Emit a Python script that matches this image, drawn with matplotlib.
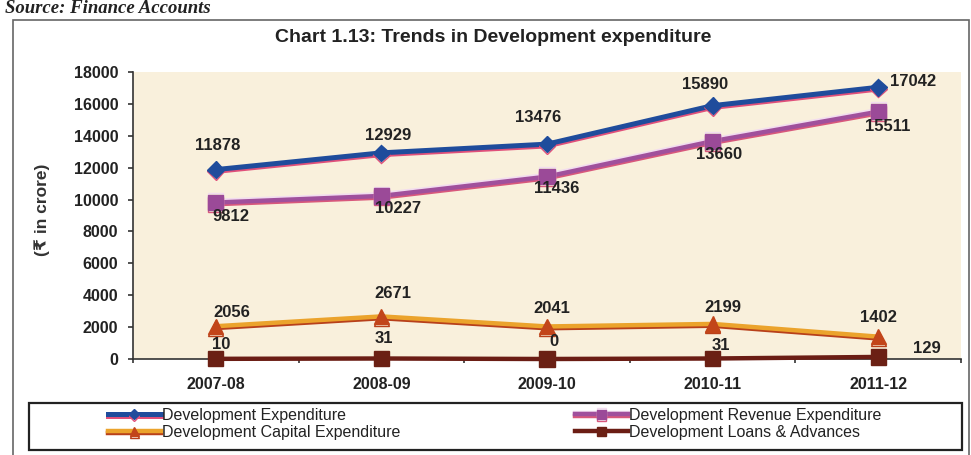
import numpy as np
import matplotlib
matplotlib.use("Agg")
import matplotlib.pyplot as plt
import matplotlib.patheffects as pe
from matplotlib.patches import Rectangle

years = ['2007-08', '2008-09', '2009-10', '2010-11', '2011-12']
dev_exp = [11878, 12929, 13476, 15890, 17042]
dev_rev = [9812, 10227, 11436, 13660, 15511]
dev_cap = [2056, 2671, 2041, 2199, 1402]
dev_loans = [10, 31, 0, 31, 129]

names = ['Development Expenditure', 'Development Revenue Expenditure',
         'Development Capital Expenditure', 'Development Loans & Advances']

W, H = 971, 455
FONT = ['Liberation Sans', 'DejaVu Sans']
plt.rcParams['font.family'] = FONT
TXT = '#222222'

# label offsets in pixels (dx, dy) from each marker
off_exp = [(2, 24), (7, 17), (-9, 27), (-8, 21), (35, 6)]
off_rev = [(15, -14), (17, -13), (10, -12), (6, -13), (9, -15)]
off_cap = [(16, 14), (11, 23), (5, 18), (10, 16), (0, 19)]
off_loans = [(5, 14), (2, 20), (7, 18), (8, 13), (49, 8)]

fig = plt.figure(figsize=(W / 100, H / 100), dpi=100)
ax = fig.add_axes([133 / W, 1 - 359 / H, (961 - 133) / W, (359 - 72) / H])
ax.set_facecolor('#f9f0dc')

x = np.arange(len(years))

series = [
    (dev_exp, names[0], '#1f4c9c', 'D', 8.5, '#1f4c9c', off_exp, 3.6,
     [pe.SimpleLineShadow(offset=(0, -1.3), shadow_color='#e0507a', alpha=1), pe.Normal()]),
    (dev_rev, names[1], '#a0509c', 's', 11, '#9b4a98', off_rev, 3.2,
     [pe.SimpleLineShadow(offset=(0, 1.2), shadow_color='#f2dcef', alpha=1),
      pe.SimpleLineShadow(offset=(0, -1.2), shadow_color='#d8587c', alpha=1), pe.Normal()]),
    (dev_cap, names[2], '#eba32c', '^', 11, '#c2451a', off_cap, 3.2,
     [pe.SimpleLineShadow(offset=(0, -1.3), shadow_color='#b8401a', alpha=1), pe.Normal()]),
    (dev_loans, names[3], '#6b1d14', 's', 11, '#6b2014', off_loans, 3.2,
     [pe.Normal()]),
]

handles = []
for vals, name, col, mk, ms, mcol, offs, lw, effects in series:
    ln, = ax.plot(x, vals, color=col, lw=lw, marker=mk, ms=ms, mfc=mcol, mec=mcol,
                  clip_on=False, label=name, path_effects=effects, zorder=3)
    handles.append(ln)
    for xi, v, (dx, dy) in zip(x, vals, offs):
        ax.annotate(str(v), (xi, v), xytext=(dx, dy), textcoords='offset pixels',
                    ha='center', va='center', fontsize=12, fontweight='bold',
                    color=TXT, zorder=5, annotation_clip=False)

ax.set_xlim(-0.5, len(years) - 0.5)
ax.set_ylim(0, 18000)
ax.set_yticks(np.arange(0, 18001, 2000))
ax.set_xticks(x)
ax.set_xticklabels(years)
ax.set_xticks(np.arange(-0.5, len(years)), minor=True)
ax.tick_params(axis='x', which='major', length=0, pad=13, labelsize=11.5, labelcolor=TXT)
ax.tick_params(axis='x', which='minor', length=3, width=1.2, color='#333333', direction='out')
ax.tick_params(axis='y', length=3.6, width=1.2, color='#333333', pad=7, labelsize=11.5,
               labelcolor=TXT)
for lab in ax.get_xticklabels() + ax.get_yticklabels():
    lab.set_fontweight('bold')

for s in ['top', 'right']:
    ax.spines[s].set_visible(False)
for s in ['left', 'bottom']:
    ax.spines[s].set_color('#333333')
    ax.spines[s].set_linewidth(1.2)

fig.text(42 / W, 1 - 210 / H, '(\u20b9 in crore)', rotation=90, ha='center', va='center',
         fontsize=12.5, fontweight='bold', color='#333333')
fig.text(493 / W, 1 - 37 / H, 'Chart 1.13: Trends in Development expenditure',
         ha='center', va='center', fontsize=14, fontweight='bold', color=TXT)
fig.text(5 / W, 1 - 13 / H, 'Source: Finance Accounts', ha='left', va='baseline',
         fontsize=13.5, fontweight='bold', fontstyle='italic', family='Liberation Serif',
         color='#222222')

# frames
fig.patches.append(Rectangle((13 / W, -0.02), (969 - 13) / W, 1 - 20 / H + 0.02,
                             transform=fig.transFigure, fill=False, ec='#666666', lw=1.2))
fig.patches.append(Rectangle((29 / W, 1 - 450 / H), (962 - 29) / W, (450 - 403) / H,
                             transform=fig.transFigure, fill=False, ec='#222222', lw=1.6))

leg_kw = dict(loc='center left', frameon=False, borderpad=0, borderaxespad=0,
              handlelength=3.3, handletextpad=0.1, labelspacing=0.12,
              markerscale=0.6, fontsize=11.5, labelcolor=TXT)
leg1 = fig.legend([handles[0], handles[2]], [names[0], names[2]],
                  bbox_to_anchor=(108 / W, 1 - 424 / H), **leg_kw)
leg2 = fig.legend([handles[1], handles[3]], [names[1], names[3]],
                  bbox_to_anchor=(575 / W, 1 - 424 / H), **leg_kw)

fig.savefig('out.png', dpi=100, facecolor='white')
